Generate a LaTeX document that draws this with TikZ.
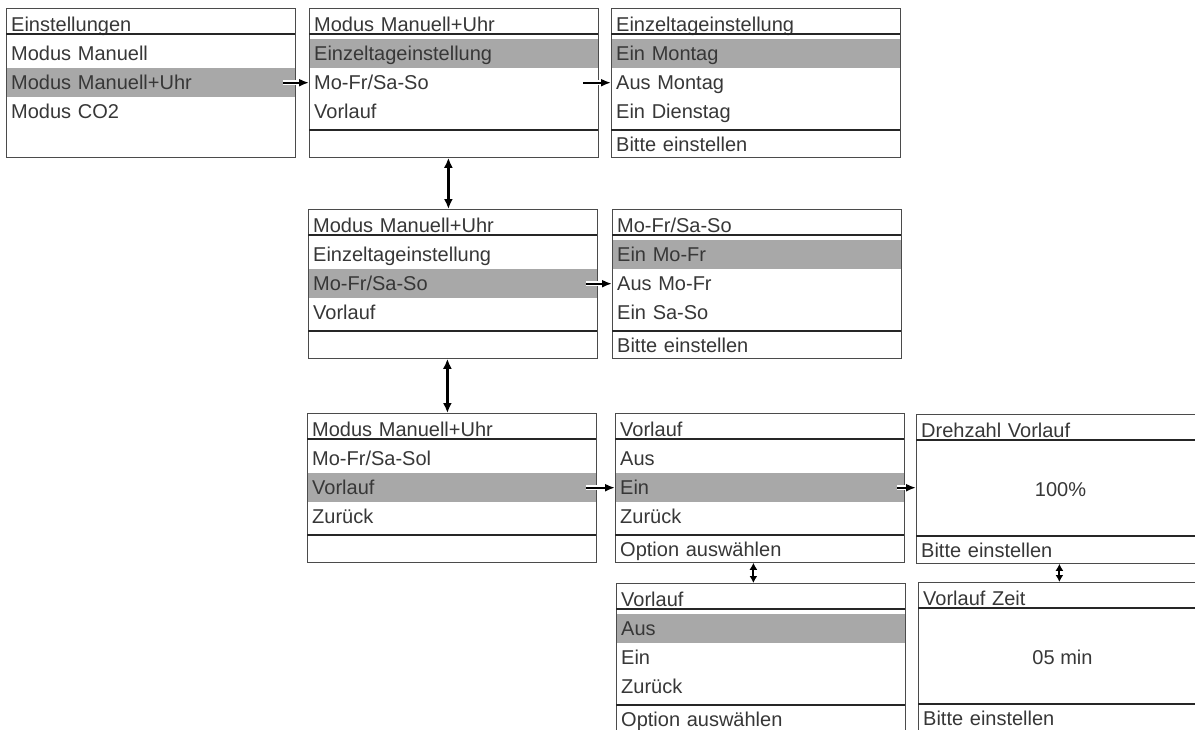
\documentclass[tikz,border=0pt]{standalone}
\usepackage{fontspec}
\setmainfont{Liberation Sans}
\usetikzlibrary{arrows.meta}
\definecolor{hl}{RGB}{168,168,168}
\definecolor{txt}{RGB}{55,55,55}
\definecolor{frame}{RGB}{75,75,75}
\newcommand{\mfont}{\fontsize{20}{22}\selectfont}
\tikzset{
  boxshape/.style={draw=frame, line width=0.8pt, minimum width=289pt, minimum height=149pt, inner sep=0pt, anchor=north west},
  cell/.style={anchor=north west, minimum width=289pt, text width=279pt, inner xsep=5pt, inner ysep=0pt,
    align=left, font=\mfont, text=txt, text height=14pt, text depth=0pt},
  hdr/.style={cell, minimum height=26pt},
  row/.style={cell, minimum height=29pt},
  ftr/.style={cell, minimum height=28pt},
  valtext/.style={font=\mfont, text=txt, inner sep=0pt, text height=14pt, text depth=0pt},
  sepline/.style={draw=black!85, line width=1.3pt},
  arr/.style={-{Latex[length=10pt,width=8pt]}, line width=2.2pt, black,
    preaction={draw=white, line width=5pt, -}},
  darr/.style={{Latex[length=10pt,width=9pt]}-{Latex[length=10pt,width=9pt]}, line width=2.3pt, black},
  sdarr/.style={{Latex[length=7pt,width=8pt]}-{Latex[length=7pt,width=8pt]}, line width=2pt, black},
}
% #1 name, #2 x, #3 y, #4 header, #5 r1, #6 r2, #7 r3, #8 footer (none = no footer line), #9 highlighted row
\newcommand{\menubox}[9]{%
  \tikzset{hlrow1/.style={}, hlrow2/.style={}, hlrow3/.style={}, hlrow#9/.style={fill=hl}}%
  \node[hdr] (#1-h) at ({#2},{#3+3.5}) {#4};
  \node[row, hlrow1] (#1-r1) at ({#2},{#3+31}) {#5};
  \node[row, hlrow2] (#1-r2) at ({#2},{#3+60}) {#6};
  \node[row, hlrow3] (#1-r3) at ({#2},{#3+89}) {#7};
  \node[boxshape] (#1) at ({#2},{#3}) {};
  \draw[sepline] ({#2},{#3+26}) -- ({#2+289},{#3+26});
  \def\tmparg{#8}\def\tmpnone{none}%
  \ifx\tmparg\tmpnone\else
    \node[ftr] (#1-f) at ({#2},{#3+122}) {#8};
    \draw[sepline] ({#2},{#3+122}) -- ({#2+289},{#3+122});
  \fi
}
% #1 name, #2 x, #3 y, #4 header, #5 value, #6 footer
\newcommand{\valbox}[6]{%
  \node[hdr] (#1-h) at ({#2},{#3+3.5}) {#4};
  \node[boxshape] (#1) at ({#2},{#3}) {};
  \node[valtext] (#1-v) at ({#2+144.5},{#3+75}) {#5};
  \node[ftr] (#1-f) at ({#2},{#3+122}) {#6};
  \draw[sepline] ({#2},{#3+26}) -- ({#2+289},{#3+26});
  \draw[sepline] ({#2},{#3+122}) -- ({#2+289},{#3+122});
}
\begin{document}
\begin{tikzpicture}[x=1pt,y=-1pt]
\useasboundingbox[fill=white] (0,0) rectangle (1195,729);
\clip (0,0) rectangle (1195,729);

\menubox{b1}{6}{8}{Einstellungen}{Modus Manuell}{Modus Manuell+Uhr}{Modus CO2}{none}{2}
\menubox{b2}{309}{8}{Modus Manuell+Uhr}{Einzeltageinstellung}{Mo-Fr/Sa-So}{Vorlauf}{}{1}
\menubox{b3}{611}{8}{Einzeltageinstellung}{Ein Montag}{Aus Montag}{Ein Dienstag}{Bitte einstellen}{1}
\menubox{b4}{308}{209}{Modus Manuell+Uhr}{Einzeltageinstellung}{Mo-Fr/Sa-So}{Vorlauf}{}{2}
\menubox{b5}{612}{209}{Mo-Fr/Sa-So}{Ein Mo-Fr}{Aus Mo-Fr}{Ein Sa-So}{Bitte einstellen}{1}
\menubox{b6}{307}{413}{Modus Manuell+Uhr}{Mo-Fr/Sa-Sol}{Vorlauf}{Zurück}{}{2}
\menubox{b7}{615}{413}{Vorlauf}{Aus}{Ein}{Zurück}{Option auswählen}{2}
\valbox{b8}{916}{414}{Drehzahl Vorlauf}{100\%}{Bitte einstellen}
\menubox{b9}{616}{583}{Vorlauf}{Aus}{Ein}{Zurück}{Option auswählen}{1}
\valbox{b10}{918}{582}{Vorlauf Zeit}{05 min}{Bitte einstellen}

% horizontal arrows
\draw[arr] ([xshift=-12pt]b1-r2.east) -- (b2-r2.west);
\draw[arr] ([xshift=-15pt]b2-r2.east) -- (b3-r2.west);
\draw[arr] ([xshift=-11pt]b4-r2.east) -- (b5-r2.west);
\draw[arr] ([xshift=-10pt]b6-r2.east) -- (b7-r2.west);
\draw[arr] ([xshift=-7pt]b7-r2.east) -- (b7-r2.east -| b8.west);

% vertical double arrows
\draw[darr] ([xshift=-5.5pt]b2.south) -- ([xshift=-5.5pt]b2.south |- b4.north);
\draw[darr] ([xshift=-5.5pt]b4.south) -- ([xshift=-5.5pt]b4.south |- b6.north);
\draw[sdarr] ([xshift=-6.5pt]b7.south) -- ([xshift=-6.5pt]b7.south |- b9.north);
\draw[sdarr] ([xshift=-1.5pt]b8.south) -- ([xshift=-1.5pt]b8.south |- b10.north);
\end{tikzpicture}
\end{document}
